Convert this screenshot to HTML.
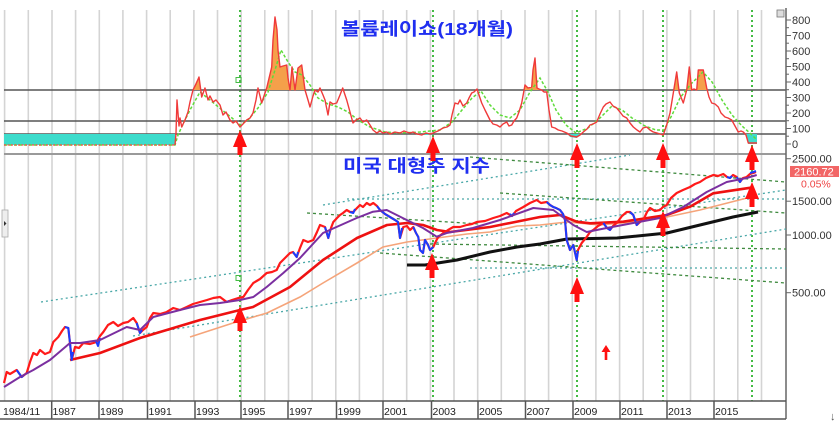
<!DOCTYPE html>
<html><head><meta charset="utf-8"><style>
html,body{margin:0;padding:0;background:#fff;}
svg{display:block;}
text{font-family:"Liberation Sans","Noto Sans CJK KR",sans-serif;}
</style></head><body>
<svg width="839" height="422" viewBox="0 0 839 422" xmlns="http://www.w3.org/2000/svg">
<defs>
<clipPath id="above350"><rect x="0" y="0" width="786" height="90"/></clipPath>
<clipPath id="below70"><rect x="0" y="134" width="786" height="20"/></clipPath>
<g id="arr"><polygon points="0,0 7,17 2.5,17 2.5,25 -2.5,25 -2.5,17 -7,17" fill="#ff1010"/></g>
</defs>
<rect width="839" height="422" fill="#fff"/>
<!-- year grid -->
<g stroke="#d4d4d4" stroke-width="1.6">
<line x1="4.6" y1="10" x2="4.6" y2="401"/><line x1="28.3" y1="10" x2="28.3" y2="401"/><line x1="52" y1="10" x2="52" y2="401"/><line x1="75.6" y1="10" x2="75.6" y2="401"/><line x1="99.3" y1="10" x2="99.3" y2="401"/><line x1="122.9" y1="10" x2="122.9" y2="401"/><line x1="146.6" y1="10" x2="146.6" y2="401"/><line x1="170.2" y1="10" x2="170.2" y2="401"/><line x1="193.9" y1="10" x2="193.9" y2="401"/><line x1="217.5" y1="10" x2="217.5" y2="401"/><line x1="241.2" y1="10" x2="241.2" y2="401"/><line x1="264.8" y1="10" x2="264.8" y2="401"/><line x1="288.5" y1="10" x2="288.5" y2="401"/><line x1="312.1" y1="10" x2="312.1" y2="401"/><line x1="335.8" y1="10" x2="335.8" y2="401"/><line x1="359.4" y1="10" x2="359.4" y2="401"/><line x1="383.1" y1="10" x2="383.1" y2="401"/><line x1="406.7" y1="10" x2="406.7" y2="401"/><line x1="430.4" y1="10" x2="430.4" y2="401"/><line x1="454" y1="10" x2="454" y2="401"/><line x1="477.7" y1="10" x2="477.7" y2="401"/><line x1="501.3" y1="10" x2="501.3" y2="401"/><line x1="525" y1="10" x2="525" y2="401"/><line x1="548.6" y1="10" x2="548.6" y2="401"/><line x1="572.3" y1="10" x2="572.3" y2="401"/><line x1="595.9" y1="10" x2="595.9" y2="401"/><line x1="619.6" y1="10" x2="619.6" y2="401"/><line x1="643.2" y1="10" x2="643.2" y2="401"/><line x1="666.9" y1="10" x2="666.9" y2="401"/><line x1="690.5" y1="10" x2="690.5" y2="401"/><line x1="714.2" y1="10" x2="714.2" y2="401"/><line x1="737.8" y1="10" x2="737.8" y2="401"/><line x1="761.5" y1="10" x2="761.5" y2="401"/>
</g>
<!-- green vertical dotted -->
<g stroke="#44bb44" stroke-width="2" stroke-dasharray="2,3">
<line x1="240" y1="10" x2="240" y2="401"/><line x1="433" y1="10" x2="433" y2="401"/><line x1="577" y1="10" x2="577" y2="401"/><line x1="663" y1="10" x2="663" y2="401"/><line x1="752" y1="10" x2="752" y2="401"/>
</g>
<!-- top panel horizontal level lines -->
<g stroke="#555" stroke-width="1.6">
<line x1="4" y1="90" x2="786" y2="90"/><line x1="4" y1="121" x2="786" y2="121"/><line x1="4" y1="134" x2="786" y2="134"/>
</g>
<line x1="4" y1="154" x2="786" y2="154" stroke="#9a9a9a" stroke-width="2"/>
<!-- teal fills -->
<rect x="4" y="134" width="171" height="11" fill="#3ddccc"/>
<g clip-path="url(#below70)">
<polygon fill="#3ddccc" points="176,0 176,133 400,133 406.7,132 413,132 421.7,135 428,135 433,133 443,128 450,125 455,103 460,100 466.7,103 471.7,93 477,89 481.7,103 490,120 496.7,125 506.7,122 511.7,125 516.7,118 521.7,103 525,85 528,88 531.7,87 535,58 537,88 541.7,90 546.7,92 551.7,127 558.3,130 566.7,133 570,137 576.7,138 583.3,132 590,125 596.7,122 603.3,107 610,102 616.7,108 626.7,118 633.3,127 640,132 646.7,127 653.3,132 660,134 663.3,135 670,113 673.3,93 676.7,72 679.3,93 683.3,103 686.7,90 689.3,67 691.7,90 696.7,90 698.3,70 703.3,70 706.7,88 711.7,103 718.3,107 725,117 731.7,120 738.3,132 743.3,132 746,134 748.3,144 757,144 757,0"/>
</g>
<!-- orange fills -->
<g clip-path="url(#above350)">
<polygon fill="#f5a04a" points="188,160 188,112 193,90 196,82 199,77 201.7,97 205,88 208,100 213,160"/>
<polygon fill="#f5a04a" points="253,160 253,113 258,88 261.7,103 266.7,88 271.7,67 273,40 275,17 277,30 278,50 280,67 283,66 286.7,65 288,78 290,90 292,67 295,90 298,68 301.7,65 303,75 305,90 310,107 310,160"/>
<polygon fill="#f5a04a" points="516,160 521.7,103 525,85 528,88 531.7,87 533,70 535,58 537,88 541.7,90 546.7,160"/>
<polygon fill="#f5a04a" points="670,160 670,113 673.3,93 676.7,72 679.3,93 683.3,103 686.7,90 689.3,67 691.7,90 696.7,90 698.3,70 703.3,70 706.7,88 711.7,103 711.7,160"/>
</g>
<!-- top green dashed MA -->
<polyline fill="none" stroke="#5edb3a" stroke-width="1.5" stroke-dasharray="3,2" points="4,145 175,145 178,135 184,122 190,110 200,92 210,100 222,110 232,118 240,125 248,120 258,108 268,92 275,70 281,50 288,62 295,72 302,75 310,85 318,98 328,104 338,107 348,112 358,120 370,127 385,132 400,133 420,132 440,130 452,122 462,110 472,98 481,91 490,105 500,115 510,118 520,110 530,92 540,78 548,92 556,110 566,125 576,133 588,128 600,118 612,106 622,110 632,118 645,126 656,130 664,130 672,115 680,98 690,85 703,72 712,82 722,100 732,115 742,126 752,135 757,140"/>
<!-- top red volume ratio line -->
<polyline fill="none" stroke="#ff4a4a" stroke-width="1.3" stroke-dasharray="2,1.5" points="4,145 175,145"/>
<polyline fill="none" stroke="#f03a3a" stroke-width="1.4" stroke-linejoin="round" points="175,145 176,133 177,100 179,126 180,118 181.7,127 185,120 188,112 190,102 193,90 196,84 199,77 201.7,97 205,88 208,100 210,96 213,102 216,100 220,105 223,115 226,112 230,120 233,123 236,121 240,127 243,124 246.7,120 250,118 253,113 256,100 258,88 261.7,103 264,96 266.7,88 271.7,67 273,40 275,17 277,30 278,50 280,67 283,66 286.7,65 288,78 290,90 292,67 295,90 298,68 301.7,65 303,75 305,90 308,100 310,107 313,96 315,90 318,92 320,88 323,95 325,100 328,115 330,102 333,104 336.7,103 340,95 342.7,88 346.7,100 350,112 353,123 356,120 360,118 363,122 366.7,120 370,125 373,130 376.7,133 380,131 383,133 386.7,132 390,134 395,132 400,133 404,131 406.7,132 410,133 413,132 417,134 421.7,135 426,133 430,134 433,133 438,131 443,128 447,127 450,125 452,115 455,103 458,104 460,100 463,106 466.7,103 469,98 471.7,93 474,92 477,89 479,95 481.7,103 485,110 490,120 493,124 496.7,125 500,127 503,124 506.7,122 509,126 511.7,125 514,121 516.7,118 519,112 521.7,103 525,85 528,88 531.7,87 533,70 535,58 537,88 539,89 541.7,90 544,92 546.7,92 549,110 551.7,127 555,128 558.3,130 562,131 566.7,133 571,136 576.7,137 580,135 583.3,132 587,129 590,125 593,124 596.7,122 600,114 603.3,107 606,104 610,102 613,106 616.7,108 620,112 623,116 626.7,118 630,123 633.3,127 637,130 640,132 643,128 646.7,127 650,130 653.3,132 657,133 660,134 663.3,135 667,124 670,113 673.3,93 676.7,72 679.3,93 683.3,103 686.7,90 689.3,67 691.7,90 694,89 696.7,90 698.3,70 701,70 703.3,70 706.7,88 709,97 711.7,103 715,104 718.3,107 721,113 725,117 728,118 731.7,120 735,126 738.3,132 741,131 743.3,132 746,135 748.3,143 753,143 757,143"/>
<!-- top axis -->
<line x1="786" y1="8" x2="786" y2="419" stroke="#666" stroke-width="1.5"/>
<g stroke="#666" stroke-width="1">
<line x1="786" y1="20" x2="791" y2="20"/><line x1="786" y1="35.5" x2="791" y2="35.5"/><line x1="786" y1="51" x2="791" y2="51"/><line x1="786" y1="66.5" x2="791" y2="66.5"/><line x1="786" y1="82" x2="791" y2="82"/><line x1="786" y1="97.5" x2="791" y2="97.5"/><line x1="786" y1="113" x2="791" y2="113"/><line x1="786" y1="128.5" x2="791" y2="128.5"/><line x1="786" y1="144" x2="791" y2="144"/>
<line x1="786" y1="27.7" x2="789" y2="27.7"/><line x1="786" y1="43.2" x2="789" y2="43.2"/><line x1="786" y1="58.7" x2="789" y2="58.7"/><line x1="786" y1="74.2" x2="789" y2="74.2"/><line x1="786" y1="89.7" x2="789" y2="89.7"/><line x1="786" y1="105.2" x2="789" y2="105.2"/><line x1="786" y1="120.7" x2="789" y2="120.7"/><line x1="786" y1="136.2" x2="789" y2="136.2"/>
<line x1="786" y1="158.7" x2="791" y2="158.7"/><line x1="786" y1="201.2" x2="791" y2="201.2"/><line x1="786" y1="235" x2="791" y2="235"/><line x1="786" y1="292.7" x2="791" y2="292.7"/>
</g>
<g font-size="11" fill="#333">
<text x="792" y="24">800</text><text x="792" y="39.5">700</text><text x="792" y="55">600</text><text x="792" y="70.5">500</text><text x="792" y="86">400</text><text x="792" y="101.5">300</text><text x="792" y="117">200</text><text x="792" y="132.5">100</text><text x="792" y="148">0</text>
<text x="792" y="162.5">2500.00</text><text x="792" y="205">1500.00</text><text x="792" y="239">1000.00</text><text x="792" y="296.5">500.00</text>
</g>
<rect x="777" y="10" width="7" height="7" fill="#ddd" stroke="#777" stroke-width="0.8"/>
<rect x="790" y="166" width="49" height="11" fill="#f26666"/>
<text x="794" y="175.5" font-size="11" fill="#fff">2160.72</text>
<text x="801" y="187.5" font-size="10.5" fill="#ee4444">0.05%</text>
<!-- titles -->
<text x="341" y="35" font-size="17.5" font-weight="bold" fill="#1f2ef0" textLength="172" lengthAdjust="spacingAndGlyphs">볼륨레이쇼(18개월)</text>
<text x="343" y="172" font-size="17.5" font-weight="bold" fill="#1f2ef0" textLength="147" lengthAdjust="spacingAndGlyphs">미국 대형주 지수</text>
<!-- trend lines -->
<g fill="none" stroke-width="1.3">
<g stroke="#4aa8a8" stroke-dasharray="2,3">
<line x1="41" y1="302" x2="786" y2="190"/>
<line x1="133" y1="336" x2="786" y2="229"/>
<line x1="323" y1="205" x2="630" y2="155"/>
<line x1="347" y1="199" x2="786" y2="199"/>
<line x1="470" y1="268" x2="786" y2="268"/>
</g>
<g stroke="#3f8a3f" stroke-dasharray="3,3">
<line x1="470" y1="157" x2="786" y2="182"/>
<line x1="307" y1="213" x2="480" y2="224"/>
<line x1="500" y1="193" x2="786" y2="213"/>
<line x1="430" y1="244" x2="786" y2="249"/>
<line x1="380" y1="253" x2="786" y2="283"/>
</g>
</g>
<!-- MAs -->
<polyline fill="none" stroke="#f5a47a" stroke-width="1.6" points="190,337 233,323 267,313 300,297 323,283 357,263 383,247 407,242 437,238 467,234 490,232 517,226 540,225 567,222 600,225 633,222 667,217 700,210 747,198"/>
<polyline fill="none" stroke="#ee1111" stroke-width="2.6" stroke-linejoin="round" points="70,360 100,353 140,338 166.7,330 200,320 240,310 253,307 290,287 323,260 357,238 387,225 407,223 423,225 437,230 450,232 490,227 540,217 560,215 576.7,221.7 590,223.3 623.3,221.7 666.7,215 690,206.7 713.3,193.3 753.3,187.3"/>
<polyline fill="none" stroke="#111" stroke-width="3" stroke-linejoin="round" points="407,265 425,265 457,260 490,252 517,247 540,244 567,239 617,238 667,233 700,225 733,217 758,212"/>
<!-- price -->
<polyline fill="none" stroke="#ff1a1a" stroke-width="2.2" stroke-linejoin="round" points="4,383 6.7,372 10,374 16.7,370 21.7,377 26.7,373 30,362 33.3,353 37,355 40,350 45,354 50,352 53.3,342 58.3,337 62,331 65,327 68.3,328 70,343 71.7,360 75,347 79,348 83.3,343 90,344 96.7,342 100,336 103.3,332 108,325 113.3,322 118,326 123.3,323 128,322 133.3,318 136.7,323 140,333 143,330 146.7,327 150,318 153.3,313 160,314 166.7,312 173.3,308 180,310 186.7,307 193,304 200,302 207,300 213.3,298 220,297 226.7,302 232,300 238.3,298 243.3,297 248,290 253.3,283 260,279 266.7,273 272,272 276.7,270 280,263 285,258 290,253 293,252 296.7,257 300,248 303.3,240 308,242 313.3,240 317,232 320,225 325,227 328.3,238 331,228 333.3,222 337,218 340,215 343,213 346.7,210 350,212 353.3,212 357,208 360,205 363,207 366.7,203 370,205 373.3,203 377,206 380,210 385,214 390,217 395,220 398,222 400,238 403.3,227 407,226 410,230 413.3,227 416,233 418.3,237 420,250 423,253 425,240 428,245 430,250 433.3,247 436,241 438.3,237 443.3,233 448,230 453.3,227 460,227 466.7,225 472,224 476.7,222 485,221 493.3,218 500,216 506.7,213 512,216 516,211 523.3,207 530,203 536.7,200 541,203 546.7,202 550,205 553.3,207 556,208 560,210 563,214 565,220 566.7,240 570,250 573.3,245 576.7,260 578,250 581.7,243 586.7,237 590,232 593.3,230 598,226 603.3,223 607,228 610,230 613,226 616.7,223 622,216 626.7,212 630,212 633.3,215 636.7,225 640,222 643.3,220 647,212 650,208 655,211 660,210 663,207 666.7,205 671,198 676.7,193 683,190 690,187 695,184 700,182 706,178 713.3,175 718,176 723.3,174 727,177 730,178 733,175 736.7,177 740,182 743,178 746.7,177 750,174 753.3,173 756,172"/>
<g fill="none" stroke="#1a3cff" stroke-width="2" stroke-linejoin="round">
<polyline points="16.7,370 21.7,377 24,375"/>
<polyline points="65,327 68.3,328 70,343 71.7,360 73,352"/>
<polyline points="136.7,323 140,333 142,330"/>
<polyline points="96,341 98,346 100,338"/>
<polyline points="226.7,302 229,301"/>
<polyline points="293,252 296.7,257 298,252"/>
<polyline points="325,227 328.3,238 330,231"/>
<polyline points="350,212 353.3,213 355,209"/>
<polyline points="377,206 380,210 385,214 390,217 395,220 398,222 400,238 402,228"/>
<polyline points="413.3,227 416,233 418.3,237 420,250 423,253 425,240 428,245 430,250 433.3,247"/>
<polyline points="510,214 512,216 514,213"/>
<polyline points="546.7,202 550,205 553.3,207 556,208 560,210 563,214 565,220 566.7,240 570,250 573.3,245 576.7,260 578,251"/>
<polyline points="603.3,223 607,228 610,230 612,227"/>
<polyline points="630,212 633.3,215 636.7,225 639,222"/>
<polyline points="727,177 730,178 732,176"/>
<polyline points="736.7,177 740,182 742,179"/>
<polyline points="750,173 753.3,172 756,171"/>
</g>
<polyline fill="none" stroke="#7b2fa0" stroke-width="2" stroke-linejoin="round" points="4,387 20,377 33.3,370 50,360 70,343 80,343 100,340 126.7,327 140,330 153.3,317 180,310 200,305 220,303 240,300 253.3,297 266.7,287 283.3,273 300,258 323,233 356.7,218 373,211.7 386.7,210 406.7,220 423,228 436.7,236.7 446.7,233 473,228 500,220 533.3,208 553.3,210 573.3,225 586.7,232 606.7,228 633.3,223 660,218 683.3,207 706.7,192 726.7,182 746.7,178 756.7,175"/>
<!-- markers -->
<rect x="236" y="77.5" width="5" height="5" fill="none" stroke="#44bb44" stroke-width="1"/>
<rect x="236" y="275.5" width="5" height="5" fill="none" stroke="#44bb44" stroke-width="1"/>
<!-- arrows -->
<use href="#arr" x="240" y="130"/>
<use href="#arr" x="433" y="136"/>
<use href="#arr" x="577" y="143"/>
<use href="#arr" x="663" y="143"/>
<use href="#arr" x="752" y="145"/>
<use href="#arr" x="240" y="306"/>
<use href="#arr" x="432" y="253"/>
<use href="#arr" x="577" y="277"/>
<use href="#arr" x="663" y="211"/>
<use href="#arr" x="752" y="182"/>
<polygon points="606,345 610.5,352 607.3,352 607.3,360 604.7,360 604.7,352 601.5,352" fill="#ff1010"/>
<!-- left tab -->
<rect x="2" y="210" width="6" height="27" fill="#eee" stroke="#aaa" stroke-width="0.8"/>
<polygon points="4,221 6.5,223.5 4,226" fill="#333"/>
<!-- x axis -->
<g stroke="#555" stroke-width="1.5">
<line x1="0" y1="401" x2="786" y2="401"/><line x1="0" y1="419" x2="786" y2="419"/>
<line x1="51.7" y1="401" x2="51.7" y2="419"/><line x1="99" y1="401" x2="99" y2="419"/><line x1="147.5" y1="401" x2="147.5" y2="419"/><line x1="195" y1="401" x2="195" y2="419"/><line x1="241" y1="401" x2="241" y2="419"/><line x1="288" y1="401" x2="288" y2="419"/><line x1="336.5" y1="401" x2="336.5" y2="419"/><line x1="383" y1="401" x2="383" y2="419"/><line x1="431.5" y1="401" x2="431.5" y2="419"/><line x1="478" y1="401" x2="478" y2="419"/><line x1="525.5" y1="401" x2="525.5" y2="419"/><line x1="573" y1="401" x2="573" y2="419"/><line x1="620" y1="401" x2="620" y2="419"/><line x1="667" y1="401" x2="667" y2="419"/><line x1="714" y1="401" x2="714" y2="419"/>
</g>
<g font-size="10.5" fill="#222">
<text x="3" y="415">1984/11</text><text x="52.5" y="415">1987</text><text x="100" y="415">1989</text><text x="148.5" y="415">1991</text><text x="196" y="415">1993</text><text x="242" y="415">1995</text><text x="289" y="415">1997</text><text x="337.5" y="415">1999</text><text x="384" y="415">2001</text><text x="432.5" y="415">2003</text><text x="479" y="415">2005</text><text x="526.5" y="415">2007</text><text x="574" y="415">2009</text><text x="621" y="415">2011</text><text x="668" y="415">2013</text><text x="715" y="415">2015</text>
</g>
<text x="830" y="420" font-size="11" fill="#555">↓</text>
</svg>
</body></html>
